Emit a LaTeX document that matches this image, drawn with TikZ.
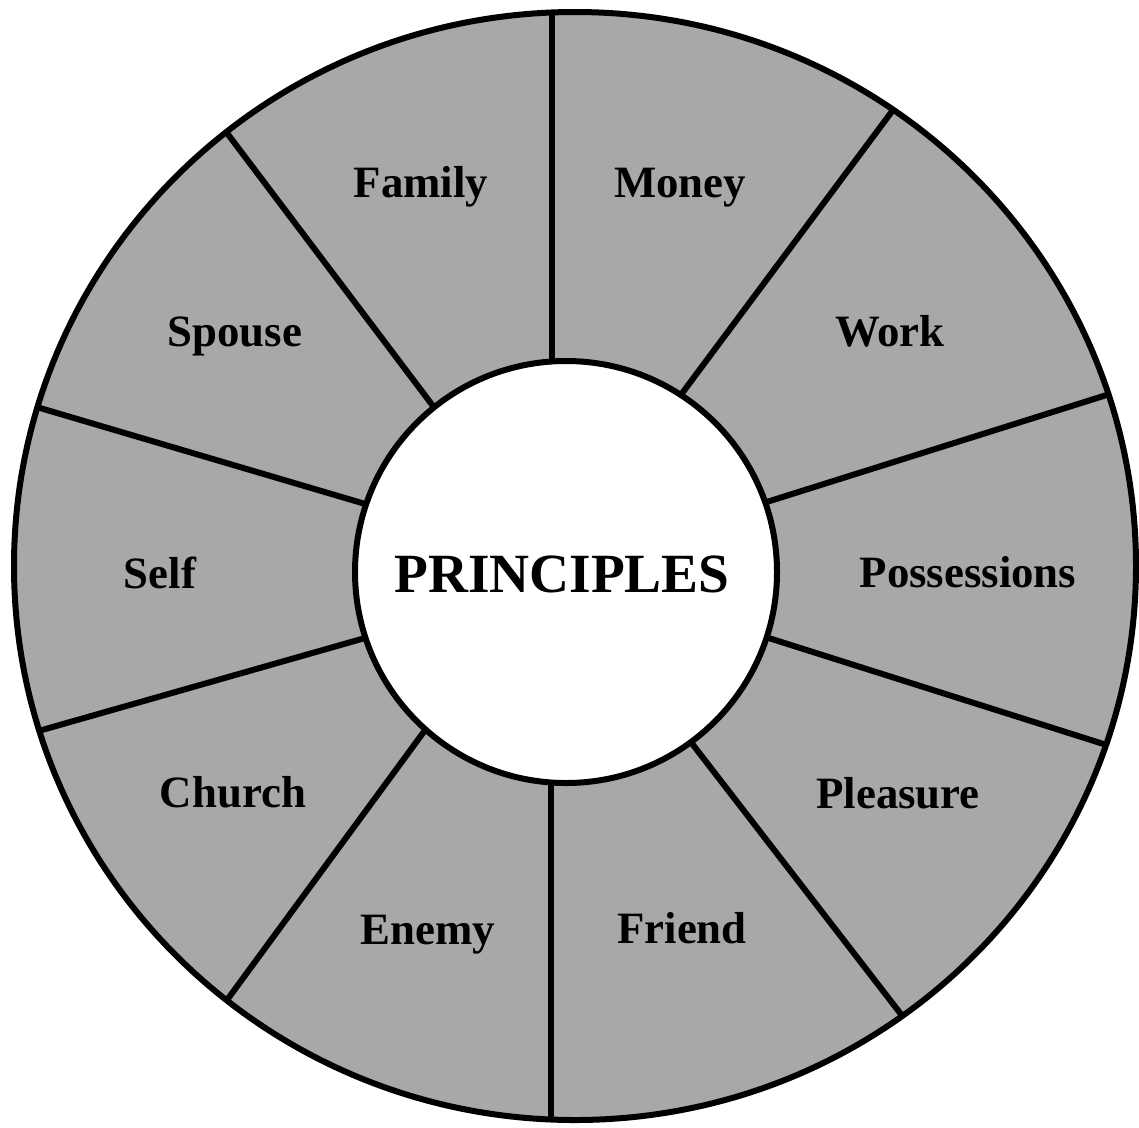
\documentclass[tikz,border=0pt]{standalone}
\usepackage{fontspec}
\setmainfont{Liberation Serif}
\usetikzlibrary{calc}
\definecolor{ringgray}{gray}{0.66}
\begin{document}
\begin{tikzpicture}[x=0.02cm,y=-0.02cm,
  divider/.style={line width=6*0.02cm},
  rim/.style={line width=6*0.02cm},
  lbl/.style={anchor=base,inner sep=0pt,font=\fontsize{25.5}{30}\selectfont\bfseries},
  ctr/.style={anchor=base,inner sep=0pt,font=\fontsize{31.5}{36}\selectfont\bfseries}]
\useasboundingbox (0,0) rectangle (1139,1127);
\fill[white] (0,0) rectangle (1139,1127);
% ring
\fill[ringgray] (575,566) ellipse[x radius=561,y radius=554];
% divider end points (outer, inner)
\coordinate (o1) at (552,10);   \coordinate (i1) at (552,362);
\coordinate (o2) at (893,110);  \coordinate (i2) at (683,392);
\coordinate (o3) at (1113,393); \coordinate (i3) at (773,500);
\coordinate (o4) at (1113,747); \coordinate (i4) at (775,640);
\coordinate (o5) at (907,1022); \coordinate (i5) at (697,750);
\coordinate (o6) at (551,1122); \coordinate (i6) at (551,782);
\coordinate (o7) at (227,1000); \coordinate (i7) at (420,737);
\coordinate (o8) at (42,730);   \coordinate (i8) at (358,640);
\coordinate (o9) at (40,408);   \coordinate (i9) at (362,503);
\coordinate (o10) at (230,137); \coordinate (i10) at (430,402);
\begin{scope}
\clip (575,566) ellipse[x radius=561,y radius=554];
\foreach \k in {1,...,10}{
  \draw[divider] ($(i\k)!-0.12!(o\k)$) -- ($(i\k)!1.1!(o\k)$);
}
\end{scope}
\draw[rim] (575,566) ellipse[x radius=561,y radius=554];
\filldraw[fill=white,rim] (566,572) circle[radius=211];
% labels
\node[ctr] (center) at (562,592) {PRINCIPLES};
\node[lbl] (family) at (421,197) {Family};
\node[lbl] (money) at (680,197) {Money};
\node[lbl] (spouse) at (235,346) {Spouse};
\node[lbl] (work) at (890,346) {Work};
\node[lbl] (self) at (160,588) {Self};
\node[lbl] (poss) at (968,587) {Possessions};
\node[lbl] (church) at (233,807) {Church};
\node[lbl] (pleasure) at (898,808) {Pleasure};
\node[lbl] (enemy) at (428,944) {Enemy};
\node[lbl] (friend) at (682,943) {Friend};
\end{tikzpicture}
\end{document}
